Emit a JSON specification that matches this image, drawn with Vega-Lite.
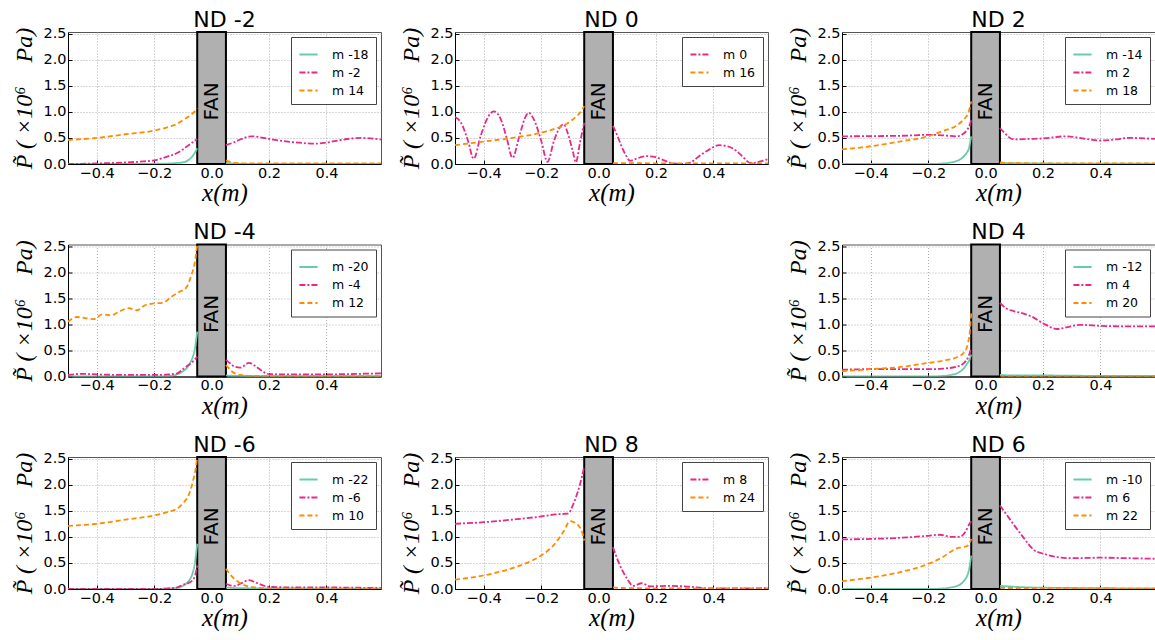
{
"$schema":"https://vega.github.io/schema/vega-lite/v6.json",
"padding":{"left":12,"top":8,"right":0,"bottom":0},
"background":"white",
"bounds":"flush",
"columns":3,
"spacing":{"row":80.5,"column":74},
"datasets":{
"fan":[{"x":-0.05,"xe":0.05,"p":0,"pe":2.53}],
"fanlabel":[{"x":0,"p":1.2,"label":"FAN"}],
"curves":[
{"nd":-2,"m":"m -18","s":"L","x":-0.5,"p":0},{"nd":-2,"m":"m -18","s":"L","x":-0.3,"p":0},{"nd":-2,"m":"m -18","s":"L","x":-0.2,"p":0.005},{"nd":-2,"m":"m -18","s":"L","x":-0.15,"p":0.01},{"nd":-2,"m":"m -18","s":"L","x":-0.12,"p":0.02},{"nd":-2,"m":"m -18","s":"L","x":-0.1,"p":0.03},{"nd":-2,"m":"m -18","s":"L","x":-0.085,"p":0.06},{"nd":-2,"m":"m -18","s":"L","x":-0.075,"p":0.1},{"nd":-2,"m":"m -18","s":"L","x":-0.065,"p":0.16},{"nd":-2,"m":"m -18","s":"L","x":-0.058,"p":0.22},{"nd":-2,"m":"m -18","s":"L","x":-0.05,"p":0.3},
{"nd":-2,"m":"m -18","s":"R","x":0.05,"p":0.02},{"nd":-2,"m":"m -18","s":"R","x":0.1,"p":0.005},{"nd":-2,"m":"m -18","s":"R","x":0.2,"p":0},{"nd":-2,"m":"m -18","s":"R","x":0.59,"p":0},
{"nd":-2,"m":"m -2","s":"L","x":-0.5,"p":0},{"nd":-2,"m":"m -2","s":"L","x":-0.4,"p":0.01},{"nd":-2,"m":"m -2","s":"L","x":-0.3,"p":0.03},{"nd":-2,"m":"m -2","s":"L","x":-0.25,"p":0.045},{"nd":-2,"m":"m -2","s":"L","x":-0.2,"p":0.07},{"nd":-2,"m":"m -2","s":"L","x":-0.15,"p":0.15},{"nd":-2,"m":"m -2","s":"L","x":-0.12,"p":0.21},{"nd":-2,"m":"m -2","s":"L","x":-0.1,"p":0.28},{"nd":-2,"m":"m -2","s":"L","x":-0.08,"p":0.36},{"nd":-2,"m":"m -2","s":"L","x":-0.065,"p":0.42},{"nd":-2,"m":"m -2","s":"L","x":-0.05,"p":0.48},
{"nd":-2,"m":"m -2","s":"R","x":0.05,"p":0.36},{"nd":-2,"m":"m -2","s":"R","x":0.08,"p":0.42},{"nd":-2,"m":"m -2","s":"R","x":0.1,"p":0.47},{"nd":-2,"m":"m -2","s":"R","x":0.14,"p":0.53},{"nd":-2,"m":"m -2","s":"R","x":0.2,"p":0.48},{"nd":-2,"m":"m -2","s":"R","x":0.25,"p":0.44},{"nd":-2,"m":"m -2","s":"R","x":0.3,"p":0.41},{"nd":-2,"m":"m -2","s":"R","x":0.36,"p":0.39},{"nd":-2,"m":"m -2","s":"R","x":0.4,"p":0.41},{"nd":-2,"m":"m -2","s":"R","x":0.45,"p":0.46},{"nd":-2,"m":"m -2","s":"R","x":0.52,"p":0.5},{"nd":-2,"m":"m -2","s":"R","x":0.59,"p":0.47},
{"nd":-2,"m":"m 14","s":"L","x":-0.5,"p":0.46},{"nd":-2,"m":"m 14","s":"L","x":-0.4,"p":0.5},{"nd":-2,"m":"m 14","s":"L","x":-0.3,"p":0.57},{"nd":-2,"m":"m 14","s":"L","x":-0.2,"p":0.64},{"nd":-2,"m":"m 14","s":"L","x":-0.15,"p":0.71},{"nd":-2,"m":"m 14","s":"L","x":-0.12,"p":0.77},{"nd":-2,"m":"m 14","s":"L","x":-0.1,"p":0.84},{"nd":-2,"m":"m 14","s":"L","x":-0.08,"p":0.91},{"nd":-2,"m":"m 14","s":"L","x":-0.07,"p":0.95},{"nd":-2,"m":"m 14","s":"L","x":-0.06,"p":1.0},{"nd":-2,"m":"m 14","s":"L","x":-0.05,"p":1.07},
{"nd":-2,"m":"m 14","s":"R","x":0.05,"p":0.07},{"nd":-2,"m":"m 14","s":"R","x":0.065,"p":0.04},{"nd":-2,"m":"m 14","s":"R","x":0.08,"p":0.02},{"nd":-2,"m":"m 14","s":"R","x":0.12,"p":0.01},{"nd":-2,"m":"m 14","s":"R","x":0.59,"p":0.01},

{"nd":0,"m":"m 0","s":"L","x":-0.5,"p":0.9},{"nd":0,"m":"m 0","s":"L","x":-0.48,"p":0.8},{"nd":0,"m":"m 0","s":"L","x":-0.455,"p":0.45},{"nd":0,"m":"m 0","s":"L","x":-0.435,"p":0.1},{"nd":0,"m":"m 0","s":"L","x":-0.41,"p":0.55},{"nd":0,"m":"m 0","s":"L","x":-0.385,"p":0.9},{"nd":0,"m":"m 0","s":"L","x":-0.365,"p":1.01},{"nd":0,"m":"m 0","s":"L","x":-0.34,"p":0.85},{"nd":0,"m":"m 0","s":"L","x":-0.32,"p":0.5},{"nd":0,"m":"m 0","s":"L","x":-0.3,"p":0.12},{"nd":0,"m":"m 0","s":"L","x":-0.275,"p":0.55},{"nd":0,"m":"m 0","s":"L","x":-0.255,"p":0.9},{"nd":0,"m":"m 0","s":"L","x":-0.244,"p":0.98},{"nd":0,"m":"m 0","s":"L","x":-0.225,"p":0.85},{"nd":0,"m":"m 0","s":"L","x":-0.2,"p":0.45},{"nd":0,"m":"m 0","s":"L","x":-0.178,"p":0.04},{"nd":0,"m":"m 0","s":"L","x":-0.155,"p":0.45},{"nd":0,"m":"m 0","s":"L","x":-0.135,"p":0.7},{"nd":0,"m":"m 0","s":"L","x":-0.122,"p":0.76},{"nd":0,"m":"m 0","s":"L","x":-0.105,"p":0.55},{"nd":0,"m":"m 0","s":"L","x":-0.09,"p":0.25},{"nd":0,"m":"m 0","s":"L","x":-0.079,"p":0.03},{"nd":0,"m":"m 0","s":"L","x":-0.065,"p":0.4},{"nd":0,"m":"m 0","s":"L","x":-0.05,"p":0.79},
{"nd":0,"m":"m 0","s":"R","x":0.05,"p":0.73},{"nd":0,"m":"m 0","s":"R","x":0.065,"p":0.55},{"nd":0,"m":"m 0","s":"R","x":0.08,"p":0.34},{"nd":0,"m":"m 0","s":"R","x":0.095,"p":0.17},{"nd":0,"m":"m 0","s":"R","x":0.11,"p":0.06},{"nd":0,"m":"m 0","s":"R","x":0.13,"p":0.1},{"nd":0,"m":"m 0","s":"R","x":0.17,"p":0.15},{"nd":0,"m":"m 0","s":"R","x":0.2,"p":0.13},{"nd":0,"m":"m 0","s":"R","x":0.22,"p":0.09},{"nd":0,"m":"m 0","s":"R","x":0.26,"p":0.01},{"nd":0,"m":"m 0","s":"R","x":0.3,"p":0},{"nd":0,"m":"m 0","s":"R","x":0.33,"p":0.06},{"nd":0,"m":"m 0","s":"R","x":0.35,"p":0.15},{"nd":0,"m":"m 0","s":"R","x":0.38,"p":0.26},{"nd":0,"m":"m 0","s":"R","x":0.42,"p":0.36},{"nd":0,"m":"m 0","s":"R","x":0.45,"p":0.34},{"nd":0,"m":"m 0","s":"R","x":0.48,"p":0.25},{"nd":0,"m":"m 0","s":"R","x":0.5,"p":0.15},{"nd":0,"m":"m 0","s":"R","x":0.53,"p":0.02},{"nd":0,"m":"m 0","s":"R","x":0.55,"p":0.03},{"nd":0,"m":"m 0","s":"R","x":0.57,"p":0.06},{"nd":0,"m":"m 0","s":"R","x":0.59,"p":0.09},
{"nd":0,"m":"m 16","s":"L","x":-0.5,"p":0.36},{"nd":0,"m":"m 16","s":"L","x":-0.4,"p":0.43},{"nd":0,"m":"m 16","s":"L","x":-0.3,"p":0.5},{"nd":0,"m":"m 16","s":"L","x":-0.2,"p":0.6},{"nd":0,"m":"m 16","s":"L","x":-0.15,"p":0.68},{"nd":0,"m":"m 16","s":"L","x":-0.12,"p":0.74},{"nd":0,"m":"m 16","s":"L","x":-0.1,"p":0.81},{"nd":0,"m":"m 16","s":"L","x":-0.08,"p":0.9},{"nd":0,"m":"m 16","s":"L","x":-0.07,"p":0.95},{"nd":0,"m":"m 16","s":"L","x":-0.06,"p":1.02},{"nd":0,"m":"m 16","s":"L","x":-0.05,"p":1.11},
{"nd":0,"m":"m 16","s":"R","x":0.05,"p":0.015},{"nd":0,"m":"m 16","s":"R","x":0.59,"p":0.01},

{"nd":2,"m":"m -14","s":"L","x":-0.5,"p":0},{"nd":2,"m":"m -14","s":"L","x":-0.2,"p":0},{"nd":2,"m":"m -14","s":"L","x":-0.15,"p":0.01},{"nd":2,"m":"m -14","s":"L","x":-0.12,"p":0.03},{"nd":2,"m":"m -14","s":"L","x":-0.1,"p":0.06},{"nd":2,"m":"m -14","s":"L","x":-0.085,"p":0.1},{"nd":2,"m":"m -14","s":"L","x":-0.075,"p":0.15},{"nd":2,"m":"m -14","s":"L","x":-0.065,"p":0.22},{"nd":2,"m":"m -14","s":"L","x":-0.058,"p":0.3},{"nd":2,"m":"m -14","s":"L","x":-0.05,"p":0.53},
{"nd":2,"m":"m -14","s":"R","x":0.05,"p":0.02},{"nd":2,"m":"m -14","s":"R","x":0.1,"p":0.015},{"nd":2,"m":"m -14","s":"R","x":0.2,"p":0.01},{"nd":2,"m":"m -14","s":"R","x":0.59,"p":0.005},
{"nd":2,"m":"m 2","s":"L","x":-0.5,"p":0.53},{"nd":2,"m":"m 2","s":"L","x":-0.4,"p":0.535},{"nd":2,"m":"m 2","s":"L","x":-0.3,"p":0.54},{"nd":2,"m":"m 2","s":"L","x":-0.25,"p":0.55},{"nd":2,"m":"m 2","s":"L","x":-0.2,"p":0.56},{"nd":2,"m":"m 2","s":"L","x":-0.15,"p":0.55},{"nd":2,"m":"m 2","s":"L","x":-0.1,"p":0.53},{"nd":2,"m":"m 2","s":"L","x":-0.08,"p":0.57},{"nd":2,"m":"m 2","s":"L","x":-0.065,"p":0.65},{"nd":2,"m":"m 2","s":"L","x":-0.055,"p":0.75},{"nd":2,"m":"m 2","s":"L","x":-0.05,"p":0.85},
{"nd":2,"m":"m 2","s":"R","x":0.05,"p":0.69},{"nd":2,"m":"m 2","s":"R","x":0.065,"p":0.6},{"nd":2,"m":"m 2","s":"R","x":0.08,"p":0.52},{"nd":2,"m":"m 2","s":"R","x":0.1,"p":0.47},{"nd":2,"m":"m 2","s":"R","x":0.15,"p":0.48},{"nd":2,"m":"m 2","s":"R","x":0.2,"p":0.49},{"nd":2,"m":"m 2","s":"R","x":0.28,"p":0.53},{"nd":2,"m":"m 2","s":"R","x":0.35,"p":0.48},{"nd":2,"m":"m 2","s":"R","x":0.4,"p":0.45},{"nd":2,"m":"m 2","s":"R","x":0.45,"p":0.47},{"nd":2,"m":"m 2","s":"R","x":0.5,"p":0.5},{"nd":2,"m":"m 2","s":"R","x":0.59,"p":0.48},
{"nd":2,"m":"m 18","s":"L","x":-0.5,"p":0.28},{"nd":2,"m":"m 18","s":"L","x":-0.4,"p":0.34},{"nd":2,"m":"m 18","s":"L","x":-0.3,"p":0.43},{"nd":2,"m":"m 18","s":"L","x":-0.2,"p":0.53},{"nd":2,"m":"m 18","s":"L","x":-0.15,"p":0.63},{"nd":2,"m":"m 18","s":"L","x":-0.1,"p":0.74},{"nd":2,"m":"m 18","s":"L","x":-0.08,"p":0.83},{"nd":2,"m":"m 18","s":"L","x":-0.07,"p":0.89},{"nd":2,"m":"m 18","s":"L","x":-0.06,"p":0.98},{"nd":2,"m":"m 18","s":"L","x":-0.05,"p":1.2},
{"nd":2,"m":"m 18","s":"R","x":0.05,"p":0.03},{"nd":2,"m":"m 18","s":"R","x":0.08,"p":0.015},{"nd":2,"m":"m 18","s":"R","x":0.59,"p":0.01},

{"nd":-4,"m":"m -20","s":"L","x":-0.5,"p":0},{"nd":-4,"m":"m -20","s":"L","x":-0.2,"p":0},{"nd":-4,"m":"m -20","s":"L","x":-0.15,"p":0.01},{"nd":-4,"m":"m -20","s":"L","x":-0.12,"p":0.04},{"nd":-4,"m":"m -20","s":"L","x":-0.1,"p":0.1},{"nd":-4,"m":"m -20","s":"L","x":-0.085,"p":0.17},{"nd":-4,"m":"m -20","s":"L","x":-0.075,"p":0.26},{"nd":-4,"m":"m -20","s":"L","x":-0.065,"p":0.38},{"nd":-4,"m":"m -20","s":"L","x":-0.058,"p":0.54},{"nd":-4,"m":"m -20","s":"L","x":-0.05,"p":0.86},
{"nd":-4,"m":"m -20","s":"R","x":0.05,"p":0.02},{"nd":-4,"m":"m -20","s":"R","x":0.1,"p":0.01},{"nd":-4,"m":"m -20","s":"R","x":0.59,"p":0.005},
{"nd":-4,"m":"m -4","s":"L","x":-0.5,"p":0.03},{"nd":-4,"m":"m -4","s":"L","x":-0.45,"p":0.05},{"nd":-4,"m":"m -4","s":"L","x":-0.4,"p":0.04},{"nd":-4,"m":"m -4","s":"L","x":-0.3,"p":0.03},{"nd":-4,"m":"m -4","s":"L","x":-0.2,"p":0.03},{"nd":-4,"m":"m -4","s":"L","x":-0.15,"p":0.04},{"nd":-4,"m":"m -4","s":"L","x":-0.12,"p":0.06},{"nd":-4,"m":"m -4","s":"L","x":-0.1,"p":0.14},{"nd":-4,"m":"m -4","s":"L","x":-0.085,"p":0.2},{"nd":-4,"m":"m -4","s":"L","x":-0.07,"p":0.26},{"nd":-4,"m":"m -4","s":"L","x":-0.05,"p":0.38},
{"nd":-4,"m":"m -4","s":"R","x":0.05,"p":0.32},{"nd":-4,"m":"m -4","s":"R","x":0.065,"p":0.25},{"nd":-4,"m":"m -4","s":"R","x":0.08,"p":0.19},{"nd":-4,"m":"m -4","s":"R","x":0.1,"p":0.17},{"nd":-4,"m":"m -4","s":"R","x":0.13,"p":0.26},{"nd":-4,"m":"m -4","s":"R","x":0.16,"p":0.17},{"nd":-4,"m":"m -4","s":"R","x":0.18,"p":0.09},{"nd":-4,"m":"m -4","s":"R","x":0.2,"p":0.045},{"nd":-4,"m":"m -4","s":"R","x":0.3,"p":0.04},{"nd":-4,"m":"m -4","s":"R","x":0.4,"p":0.04},{"nd":-4,"m":"m -4","s":"R","x":0.5,"p":0.05},{"nd":-4,"m":"m -4","s":"R","x":0.59,"p":0.06},
{"nd":-4,"m":"m 12","s":"L","x":-0.5,"p":1.05},{"nd":-4,"m":"m 12","s":"L","x":-0.47,"p":1.14},{"nd":-4,"m":"m 12","s":"L","x":-0.44,"p":1.12},{"nd":-4,"m":"m 12","s":"L","x":-0.41,"p":1.1},{"nd":-4,"m":"m 12","s":"L","x":-0.38,"p":1.19},{"nd":-4,"m":"m 12","s":"L","x":-0.35,"p":1.17},{"nd":-4,"m":"m 12","s":"L","x":-0.32,"p":1.25},{"nd":-4,"m":"m 12","s":"L","x":-0.29,"p":1.31},{"nd":-4,"m":"m 12","s":"L","x":-0.26,"p":1.27},{"nd":-4,"m":"m 12","s":"L","x":-0.23,"p":1.37},{"nd":-4,"m":"m 12","s":"L","x":-0.2,"p":1.4},{"nd":-4,"m":"m 12","s":"L","x":-0.17,"p":1.41},{"nd":-4,"m":"m 12","s":"L","x":-0.14,"p":1.53},{"nd":-4,"m":"m 12","s":"L","x":-0.11,"p":1.63},{"nd":-4,"m":"m 12","s":"L","x":-0.09,"p":1.69},{"nd":-4,"m":"m 12","s":"L","x":-0.07,"p":1.95},{"nd":-4,"m":"m 12","s":"L","x":-0.06,"p":2.14},{"nd":-4,"m":"m 12","s":"L","x":-0.05,"p":2.52},
{"nd":-4,"m":"m 12","s":"R","x":0.05,"p":0.22},{"nd":-4,"m":"m 12","s":"R","x":0.06,"p":0.16},{"nd":-4,"m":"m 12","s":"R","x":0.07,"p":0.1},{"nd":-4,"m":"m 12","s":"R","x":0.085,"p":0.05},{"nd":-4,"m":"m 12","s":"R","x":0.1,"p":0.03},{"nd":-4,"m":"m 12","s":"R","x":0.15,"p":0.01},{"nd":-4,"m":"m 12","s":"R","x":0.59,"p":0.005},

{"nd":4,"m":"m -12","s":"L","x":-0.5,"p":0},{"nd":4,"m":"m -12","s":"L","x":-0.2,"p":0},{"nd":4,"m":"m -12","s":"L","x":-0.15,"p":0.01},{"nd":4,"m":"m -12","s":"L","x":-0.12,"p":0.03},{"nd":4,"m":"m -12","s":"L","x":-0.1,"p":0.06},{"nd":4,"m":"m -12","s":"L","x":-0.085,"p":0.11},{"nd":4,"m":"m -12","s":"L","x":-0.075,"p":0.16},{"nd":4,"m":"m -12","s":"L","x":-0.065,"p":0.24},{"nd":4,"m":"m -12","s":"L","x":-0.058,"p":0.3},{"nd":4,"m":"m -12","s":"L","x":-0.05,"p":0.42},
{"nd":4,"m":"m -12","s":"R","x":0.05,"p":0.03},{"nd":4,"m":"m -12","s":"R","x":0.1,"p":0.02},{"nd":4,"m":"m -12","s":"R","x":0.2,"p":0.02},{"nd":4,"m":"m -12","s":"R","x":0.3,"p":0.015},{"nd":4,"m":"m -12","s":"R","x":0.59,"p":0.01},
{"nd":4,"m":"m 4","s":"L","x":-0.5,"p":0.13},{"nd":4,"m":"m 4","s":"L","x":-0.4,"p":0.14},{"nd":4,"m":"m 4","s":"L","x":-0.3,"p":0.14},{"nd":4,"m":"m 4","s":"L","x":-0.2,"p":0.14},{"nd":4,"m":"m 4","s":"L","x":-0.15,"p":0.15},{"nd":4,"m":"m 4","s":"L","x":-0.1,"p":0.19},{"nd":4,"m":"m 4","s":"L","x":-0.075,"p":0.26},{"nd":4,"m":"m 4","s":"L","x":-0.06,"p":0.38},{"nd":4,"m":"m 4","s":"L","x":-0.05,"p":0.54},
{"nd":4,"m":"m 4","s":"R","x":0.05,"p":1.41},{"nd":4,"m":"m 4","s":"R","x":0.07,"p":1.31},{"nd":4,"m":"m 4","s":"R","x":0.1,"p":1.25},{"nd":4,"m":"m 4","s":"R","x":0.13,"p":1.21},{"nd":4,"m":"m 4","s":"R","x":0.16,"p":1.15},{"nd":4,"m":"m 4","s":"R","x":0.2,"p":1.02},{"nd":4,"m":"m 4","s":"R","x":0.25,"p":0.91},{"nd":4,"m":"m 4","s":"R","x":0.28,"p":0.94},{"nd":4,"m":"m 4","s":"R","x":0.33,"p":0.99},{"nd":4,"m":"m 4","s":"R","x":0.4,"p":0.97},{"nd":4,"m":"m 4","s":"R","x":0.5,"p":0.96},{"nd":4,"m":"m 4","s":"R","x":0.59,"p":0.96},
{"nd":4,"m":"m 20","s":"L","x":-0.5,"p":0.1},{"nd":4,"m":"m 20","s":"L","x":-0.4,"p":0.14},{"nd":4,"m":"m 20","s":"L","x":-0.3,"p":0.18},{"nd":4,"m":"m 20","s":"L","x":-0.2,"p":0.26},{"nd":4,"m":"m 20","s":"L","x":-0.15,"p":0.3},{"nd":4,"m":"m 20","s":"L","x":-0.1,"p":0.37},{"nd":4,"m":"m 20","s":"L","x":-0.075,"p":0.46},{"nd":4,"m":"m 20","s":"L","x":-0.06,"p":0.67},{"nd":4,"m":"m 20","s":"L","x":-0.055,"p":0.85},{"nd":4,"m":"m 20","s":"L","x":-0.05,"p":1.21},
{"nd":4,"m":"m 20","s":"R","x":0.05,"p":0.01},{"nd":4,"m":"m 20","s":"R","x":0.59,"p":0.005},

{"nd":-6,"m":"m -22","s":"L","x":-0.5,"p":0},{"nd":-6,"m":"m -22","s":"L","x":-0.2,"p":0},{"nd":-6,"m":"m -22","s":"L","x":-0.15,"p":0.01},{"nd":-6,"m":"m -22","s":"L","x":-0.12,"p":0.02},{"nd":-6,"m":"m -22","s":"L","x":-0.1,"p":0.06},{"nd":-6,"m":"m -22","s":"L","x":-0.085,"p":0.12},{"nd":-6,"m":"m -22","s":"L","x":-0.075,"p":0.19},{"nd":-6,"m":"m -22","s":"L","x":-0.065,"p":0.32},{"nd":-6,"m":"m -22","s":"L","x":-0.058,"p":0.5},{"nd":-6,"m":"m -22","s":"L","x":-0.05,"p":0.87},
{"nd":-6,"m":"m -22","s":"R","x":0.05,"p":0.03},{"nd":-6,"m":"m -22","s":"R","x":0.1,"p":0.015},{"nd":-6,"m":"m -22","s":"R","x":0.59,"p":0.005},
{"nd":-6,"m":"m -6","s":"L","x":-0.5,"p":0},{"nd":-6,"m":"m -6","s":"L","x":-0.2,"p":0},{"nd":-6,"m":"m -6","s":"L","x":-0.15,"p":0.01},{"nd":-6,"m":"m -6","s":"L","x":-0.12,"p":0.03},{"nd":-6,"m":"m -6","s":"L","x":-0.1,"p":0.08},{"nd":-6,"m":"m -6","s":"L","x":-0.075,"p":0.13},{"nd":-6,"m":"m -6","s":"L","x":-0.06,"p":0.22},{"nd":-6,"m":"m -6","s":"L","x":-0.05,"p":0.45},
{"nd":-6,"m":"m -6","s":"R","x":0.05,"p":0.1},{"nd":-6,"m":"m -6","s":"R","x":0.065,"p":0.07},{"nd":-6,"m":"m -6","s":"R","x":0.08,"p":0.06},{"nd":-6,"m":"m -6","s":"R","x":0.1,"p":0.1},{"nd":-6,"m":"m -6","s":"R","x":0.13,"p":0.17},{"nd":-6,"m":"m -6","s":"R","x":0.16,"p":0.11},{"nd":-6,"m":"m -6","s":"R","x":0.2,"p":0.04},{"nd":-6,"m":"m -6","s":"R","x":0.3,"p":0.03},{"nd":-6,"m":"m -6","s":"R","x":0.4,"p":0.03},{"nd":-6,"m":"m -6","s":"R","x":0.5,"p":0.025},{"nd":-6,"m":"m -6","s":"R","x":0.59,"p":0.02},
{"nd":-6,"m":"m 10","s":"L","x":-0.5,"p":1.21},{"nd":-6,"m":"m 10","s":"L","x":-0.4,"p":1.25},{"nd":-6,"m":"m 10","s":"L","x":-0.3,"p":1.33},{"nd":-6,"m":"m 10","s":"L","x":-0.2,"p":1.41},{"nd":-6,"m":"m 10","s":"L","x":-0.15,"p":1.48},{"nd":-6,"m":"m 10","s":"L","x":-0.12,"p":1.54},{"nd":-6,"m":"m 10","s":"L","x":-0.1,"p":1.64},{"nd":-6,"m":"m 10","s":"L","x":-0.08,"p":1.8},{"nd":-6,"m":"m 10","s":"L","x":-0.065,"p":2.06},{"nd":-6,"m":"m 10","s":"L","x":-0.055,"p":2.32},{"nd":-6,"m":"m 10","s":"L","x":-0.05,"p":2.54},
{"nd":-6,"m":"m 10","s":"R","x":0.05,"p":0.39},{"nd":-6,"m":"m 10","s":"R","x":0.065,"p":0.28},{"nd":-6,"m":"m 10","s":"R","x":0.08,"p":0.19},{"nd":-6,"m":"m 10","s":"R","x":0.1,"p":0.11},{"nd":-6,"m":"m 10","s":"R","x":0.15,"p":0.03},{"nd":-6,"m":"m 10","s":"R","x":0.2,"p":0.01},{"nd":-6,"m":"m 10","s":"R","x":0.59,"p":0.005},

{"nd":8,"m":"m 8","s":"L","x":-0.5,"p":1.25},{"nd":8,"m":"m 8","s":"L","x":-0.4,"p":1.28},{"nd":8,"m":"m 8","s":"L","x":-0.3,"p":1.33},{"nd":8,"m":"m 8","s":"L","x":-0.2,"p":1.39},{"nd":8,"m":"m 8","s":"L","x":-0.15,"p":1.43},{"nd":8,"m":"m 8","s":"L","x":-0.12,"p":1.44},{"nd":8,"m":"m 8","s":"L","x":-0.105,"p":1.45},{"nd":8,"m":"m 8","s":"L","x":-0.09,"p":1.6},{"nd":8,"m":"m 8","s":"L","x":-0.08,"p":1.74},{"nd":8,"m":"m 8","s":"L","x":-0.065,"p":2.0},{"nd":8,"m":"m 8","s":"L","x":-0.05,"p":2.35},
{"nd":8,"m":"m 8","s":"R","x":0.05,"p":0.8},{"nd":8,"m":"m 8","s":"R","x":0.07,"p":0.51},{"nd":8,"m":"m 8","s":"R","x":0.1,"p":0.19},{"nd":8,"m":"m 8","s":"R","x":0.12,"p":0.06},{"nd":8,"m":"m 8","s":"R","x":0.15,"p":0.11},{"nd":8,"m":"m 8","s":"R","x":0.18,"p":0.05},{"nd":8,"m":"m 8","s":"R","x":0.25,"p":0.06},{"nd":8,"m":"m 8","s":"R","x":0.3,"p":0.05},{"nd":8,"m":"m 8","s":"R","x":0.4,"p":0.01},{"nd":8,"m":"m 8","s":"R","x":0.5,"p":0.01},{"nd":8,"m":"m 8","s":"R","x":0.59,"p":0.02},
{"nd":8,"m":"m 24","s":"L","x":-0.5,"p":0.18},{"nd":8,"m":"m 24","s":"L","x":-0.4,"p":0.26},{"nd":8,"m":"m 24","s":"L","x":-0.3,"p":0.4},{"nd":8,"m":"m 24","s":"L","x":-0.25,"p":0.5},{"nd":8,"m":"m 24","s":"L","x":-0.2,"p":0.64},{"nd":8,"m":"m 24","s":"L","x":-0.15,"p":0.88},{"nd":8,"m":"m 24","s":"L","x":-0.12,"p":1.12},{"nd":8,"m":"m 24","s":"L","x":-0.1,"p":1.3},{"nd":8,"m":"m 24","s":"L","x":-0.08,"p":1.26},{"nd":8,"m":"m 24","s":"L","x":-0.065,"p":1.18},{"nd":8,"m":"m 24","s":"L","x":-0.055,"p":1.05},{"nd":8,"m":"m 24","s":"L","x":-0.05,"p":0.93},
{"nd":8,"m":"m 24","s":"R","x":0.05,"p":0.03},{"nd":8,"m":"m 24","s":"R","x":0.1,"p":0.015},{"nd":8,"m":"m 24","s":"R","x":0.59,"p":0.01},

{"nd":6,"m":"m -10","s":"L","x":-0.5,"p":0},{"nd":6,"m":"m -10","s":"L","x":-0.2,"p":0},{"nd":6,"m":"m -10","s":"L","x":-0.15,"p":0.01},{"nd":6,"m":"m -10","s":"L","x":-0.12,"p":0.03},{"nd":6,"m":"m -10","s":"L","x":-0.1,"p":0.06},{"nd":6,"m":"m -10","s":"L","x":-0.085,"p":0.1},{"nd":6,"m":"m -10","s":"L","x":-0.075,"p":0.16},{"nd":6,"m":"m -10","s":"L","x":-0.065,"p":0.24},{"nd":6,"m":"m -10","s":"L","x":-0.058,"p":0.36},{"nd":6,"m":"m -10","s":"L","x":-0.05,"p":0.64},
{"nd":6,"m":"m -10","s":"R","x":0.05,"p":0.06},{"nd":6,"m":"m -10","s":"R","x":0.08,"p":0.05},{"nd":6,"m":"m -10","s":"R","x":0.15,"p":0.03},{"nd":6,"m":"m -10","s":"R","x":0.3,"p":0.02},{"nd":6,"m":"m -10","s":"R","x":0.59,"p":0.01},
{"nd":6,"m":"m 6","s":"L","x":-0.5,"p":0.95},{"nd":6,"m":"m 6","s":"L","x":-0.4,"p":0.96},{"nd":6,"m":"m 6","s":"L","x":-0.3,"p":0.98},{"nd":6,"m":"m 6","s":"L","x":-0.2,"p":1.02},{"nd":6,"m":"m 6","s":"L","x":-0.16,"p":1.04},{"nd":6,"m":"m 6","s":"L","x":-0.12,"p":1.0},{"nd":6,"m":"m 6","s":"L","x":-0.09,"p":1.0},{"nd":6,"m":"m 6","s":"L","x":-0.07,"p":1.1},{"nd":6,"m":"m 6","s":"L","x":-0.055,"p":1.26},{"nd":6,"m":"m 6","s":"L","x":-0.05,"p":1.3},
{"nd":6,"m":"m 6","s":"R","x":0.05,"p":1.6},{"nd":6,"m":"m 6","s":"R","x":0.07,"p":1.45},{"nd":6,"m":"m 6","s":"R","x":0.1,"p":1.22},{"nd":6,"m":"m 6","s":"R","x":0.13,"p":1.0},{"nd":6,"m":"m 6","s":"R","x":0.17,"p":0.74},{"nd":6,"m":"m 6","s":"R","x":0.2,"p":0.68},{"nd":6,"m":"m 6","s":"R","x":0.25,"p":0.61},{"nd":6,"m":"m 6","s":"R","x":0.3,"p":0.59},{"nd":6,"m":"m 6","s":"R","x":0.4,"p":0.6},{"nd":6,"m":"m 6","s":"R","x":0.5,"p":0.59},{"nd":6,"m":"m 6","s":"R","x":0.59,"p":0.58},
{"nd":6,"m":"m 22","s":"L","x":-0.5,"p":0.15},{"nd":6,"m":"m 22","s":"L","x":-0.4,"p":0.22},{"nd":6,"m":"m 22","s":"L","x":-0.3,"p":0.32},{"nd":6,"m":"m 22","s":"L","x":-0.2,"p":0.48},{"nd":6,"m":"m 22","s":"L","x":-0.15,"p":0.61},{"nd":6,"m":"m 22","s":"L","x":-0.12,"p":0.72},{"nd":6,"m":"m 22","s":"L","x":-0.1,"p":0.78},{"nd":6,"m":"m 22","s":"L","x":-0.08,"p":0.8},{"nd":6,"m":"m 22","s":"L","x":-0.06,"p":0.84},{"nd":6,"m":"m 22","s":"L","x":-0.05,"p":0.96},
{"nd":6,"m":"m 22","s":"R","x":0.05,"p":0.02},{"nd":6,"m":"m 22","s":"R","x":0.59,"p":0.005}
]
},
"config":{
"font":"DejaVu Sans",
"view":{"stroke":"#555","strokeWidth":1},
"title":{"font":"DejaVu Sans","fontSize":22,"fontWeight":"normal","color":"black","offset":-6},
"axis":{"labelFont":"DejaVu Sans","labelFontSize":14.5,"labelColor":"black","domainColor":"black","domainWidth":1,"tickColor":"black","tickSize":-4,"labelPadding":6,"gridColor":"#999","gridDash":[1,2],"gridWidth":0.8,"zindex":1,"titleFont":"Liberation Serif","titleFontStyle":"italic","titleFontWeight":"normal","titleColor":"black"},
"axisX":{"titlePadding":1,"titleFontSize":25},
"axisY":{"titlePadding":6,"titleFontSize":24},
"legend":{"orient":"top-right","offset":5,"padding":7,"strokeColor":"#444","fillColor":"white","symbolType":"stroke","symbolSize":330,"symbolStrokeWidth":2,"labelFont":"DejaVu Sans","labelFontSize":12.5,"labelColor":"black","labelOffset":13,"rowPadding":1}
},
"resolve":{"scale":{"x":"independent","y":"independent","color":"independent","strokeDash":"independent"},"legend":{"color":"independent","strokeDash":"independent"}},
"concat":[
{"title":"ND -2","width":313,"height":132,
 "encoding":{"x":{"field":"x","type":"quantitative","scale":{"domain":[-0.5,0.59],"nice":false,"zero":false},"axis":{"title":"x(m)","values":[-0.4,-0.2,0,0.2,0.4],"format":".1f"}},"y":{"field":"p","type":"quantitative","scale":{"domain":[0,2.53],"nice":false},"axis":{"title":"P̃ ( ×10⁶\u2002\u2002Pa)","values":[0,0.5,1,1.5,2,2.5],"format":".1f"}}},
 "layer":[
  {"data":{"name":"fan"},"mark":{"type":"rect","fill":"#b0b0b0","stroke":"black","strokeWidth":2},"encoding":{"x2":{"field":"xe"},"y2":{"field":"pe"}}},
  {"data":{"name":"curves"},"transform":[{"filter":"datum.nd == -2"}],"mark":{"type":"line","clip":true,"strokeWidth":1.8,"interpolate":"monotone"},"encoding":{"detail":{"field":"s"},"color":{"field":"m","type":"nominal","scale":{"domain":["m -18","m -2","m 14"],"range":["#66cdaa","#e7298a","#ff8c00"]},"legend":{"title":null}},"strokeDash":{"field":"m","type":"nominal","scale":{"domain":["m -18","m -2","m 14"],"range":[[1,0],[6,2,2,2],[5,3]]},"legend":{"title":null}}}},
  {"data":{"name":"fanlabel"},"mark":{"type":"text","angle":270,"fontSize":20,"font":"DejaVu Sans","color":"black"},"encoding":{"text":{"field":"label"}}}
 ]},
{"title":"ND 0","width":313,"height":132,
 "encoding":{"x":{"field":"x","type":"quantitative","scale":{"domain":[-0.5,0.59],"nice":false,"zero":false},"axis":{"title":"x(m)","values":[-0.4,-0.2,0,0.2,0.4],"format":".1f"}},"y":{"field":"p","type":"quantitative","scale":{"domain":[0,2.53],"nice":false},"axis":{"title":"P̃ ( ×10⁶\u2002\u2002Pa)","values":[0,0.5,1,1.5,2,2.5],"format":".1f"}}},
 "layer":[
  {"data":{"name":"fan"},"mark":{"type":"rect","fill":"#b0b0b0","stroke":"black","strokeWidth":2},"encoding":{"x2":{"field":"xe"},"y2":{"field":"pe"}}},
  {"data":{"name":"curves"},"transform":[{"filter":"datum.nd == 0"}],"mark":{"type":"line","clip":true,"strokeWidth":1.8,"interpolate":"monotone"},"encoding":{"detail":{"field":"s"},"color":{"field":"m","type":"nominal","scale":{"domain":["m 0","m 16"],"range":["#e7298a","#ff8c00"]},"legend":{"title":null}},"strokeDash":{"field":"m","type":"nominal","scale":{"domain":["m 0","m 16"],"range":[[6,2,2,2],[5,3]]},"legend":{"title":null}}}},
  {"data":{"name":"fanlabel"},"mark":{"type":"text","angle":270,"fontSize":20,"font":"DejaVu Sans","color":"black"},"encoding":{"text":{"field":"label"}}}
 ]},
{"title":"ND 2","width":313,"height":132,
 "encoding":{"x":{"field":"x","type":"quantitative","scale":{"domain":[-0.5,0.59],"nice":false,"zero":false},"axis":{"title":"x(m)","values":[-0.4,-0.2,0,0.2,0.4],"format":".1f"}},"y":{"field":"p","type":"quantitative","scale":{"domain":[0,2.53],"nice":false},"axis":{"title":"P̃ ( ×10⁶\u2002\u2002Pa)","values":[0,0.5,1,1.5,2,2.5],"format":".1f"}}},
 "layer":[
  {"data":{"name":"fan"},"mark":{"type":"rect","fill":"#b0b0b0","stroke":"black","strokeWidth":2},"encoding":{"x2":{"field":"xe"},"y2":{"field":"pe"}}},
  {"data":{"name":"curves"},"transform":[{"filter":"datum.nd == 2"}],"mark":{"type":"line","clip":true,"strokeWidth":1.8,"interpolate":"monotone"},"encoding":{"detail":{"field":"s"},"color":{"field":"m","type":"nominal","scale":{"domain":["m -14","m 2","m 18"],"range":["#66cdaa","#e7298a","#ff8c00"]},"legend":{"title":null}},"strokeDash":{"field":"m","type":"nominal","scale":{"domain":["m -14","m 2","m 18"],"range":[[1,0],[6,2,2,2],[5,3]]},"legend":{"title":null}}}},
  {"data":{"name":"fanlabel"},"mark":{"type":"text","angle":270,"fontSize":20,"font":"DejaVu Sans","color":"black"},"encoding":{"text":{"field":"label"}}}
 ]},
{"title":"ND -4","width":313,"height":132,
 "encoding":{"x":{"field":"x","type":"quantitative","scale":{"domain":[-0.5,0.59],"nice":false,"zero":false},"axis":{"title":"x(m)","values":[-0.4,-0.2,0,0.2,0.4],"format":".1f"}},"y":{"field":"p","type":"quantitative","scale":{"domain":[0,2.53],"nice":false},"axis":{"title":"P̃ ( ×10⁶\u2002\u2002Pa)","values":[0,0.5,1,1.5,2,2.5],"format":".1f"}}},
 "layer":[
  {"data":{"name":"fan"},"mark":{"type":"rect","fill":"#b0b0b0","stroke":"black","strokeWidth":2},"encoding":{"x2":{"field":"xe"},"y2":{"field":"pe"}}},
  {"data":{"name":"curves"},"transform":[{"filter":"datum.nd == -4"}],"mark":{"type":"line","clip":true,"strokeWidth":1.8,"interpolate":"monotone"},"encoding":{"detail":{"field":"s"},"color":{"field":"m","type":"nominal","scale":{"domain":["m -20","m -4","m 12"],"range":["#66cdaa","#e7298a","#ff8c00"]},"legend":{"title":null}},"strokeDash":{"field":"m","type":"nominal","scale":{"domain":["m -20","m -4","m 12"],"range":[[1,0],[6,2,2,2],[5,3]]},"legend":{"title":null}}}},
  {"data":{"name":"fanlabel"},"mark":{"type":"text","angle":270,"fontSize":20,"font":"DejaVu Sans","color":"black"},"encoding":{"text":{"field":"label"}}}
 ]},
{"width":313,"height":132,"view":{"stroke":null},"data":{"name":"fanlabel"},"mark":{"type":"text","opacity":0},"encoding":{"x":{"field":"x","type":"quantitative","axis":null},"y":{"field":"p","type":"quantitative","axis":null},"text":{"field":"label"}}},
{"title":"ND 4","width":313,"height":132,
 "encoding":{"x":{"field":"x","type":"quantitative","scale":{"domain":[-0.5,0.59],"nice":false,"zero":false},"axis":{"title":"x(m)","values":[-0.4,-0.2,0,0.2,0.4],"format":".1f"}},"y":{"field":"p","type":"quantitative","scale":{"domain":[0,2.53],"nice":false},"axis":{"title":"P̃ ( ×10⁶\u2002\u2002Pa)","values":[0,0.5,1,1.5,2,2.5],"format":".1f"}}},
 "layer":[
  {"data":{"name":"fan"},"mark":{"type":"rect","fill":"#b0b0b0","stroke":"black","strokeWidth":2},"encoding":{"x2":{"field":"xe"},"y2":{"field":"pe"}}},
  {"data":{"name":"curves"},"transform":[{"filter":"datum.nd == 4"}],"mark":{"type":"line","clip":true,"strokeWidth":1.8,"interpolate":"monotone"},"encoding":{"detail":{"field":"s"},"color":{"field":"m","type":"nominal","scale":{"domain":["m -12","m 4","m 20"],"range":["#66cdaa","#e7298a","#ff8c00"]},"legend":{"title":null}},"strokeDash":{"field":"m","type":"nominal","scale":{"domain":["m -12","m 4","m 20"],"range":[[1,0],[6,2,2,2],[5,3]]},"legend":{"title":null}}}},
  {"data":{"name":"fanlabel"},"mark":{"type":"text","angle":270,"fontSize":20,"font":"DejaVu Sans","color":"black"},"encoding":{"text":{"field":"label"}}}
 ]},
{"title":"ND -6","width":313,"height":132,
 "encoding":{"x":{"field":"x","type":"quantitative","scale":{"domain":[-0.5,0.59],"nice":false,"zero":false},"axis":{"title":"x(m)","values":[-0.4,-0.2,0,0.2,0.4],"format":".1f"}},"y":{"field":"p","type":"quantitative","scale":{"domain":[0,2.53],"nice":false},"axis":{"title":"P̃ ( ×10⁶\u2002\u2002Pa)","values":[0,0.5,1,1.5,2,2.5],"format":".1f"}}},
 "layer":[
  {"data":{"name":"fan"},"mark":{"type":"rect","fill":"#b0b0b0","stroke":"black","strokeWidth":2},"encoding":{"x2":{"field":"xe"},"y2":{"field":"pe"}}},
  {"data":{"name":"curves"},"transform":[{"filter":"datum.nd == -6"}],"mark":{"type":"line","clip":true,"strokeWidth":1.8,"interpolate":"monotone"},"encoding":{"detail":{"field":"s"},"color":{"field":"m","type":"nominal","scale":{"domain":["m -22","m -6","m 10"],"range":["#66cdaa","#e7298a","#ff8c00"]},"legend":{"title":null}},"strokeDash":{"field":"m","type":"nominal","scale":{"domain":["m -22","m -6","m 10"],"range":[[1,0],[6,2,2,2],[5,3]]},"legend":{"title":null}}}},
  {"data":{"name":"fanlabel"},"mark":{"type":"text","angle":270,"fontSize":20,"font":"DejaVu Sans","color":"black"},"encoding":{"text":{"field":"label"}}}
 ]},
{"title":"ND 8","width":313,"height":132,
 "encoding":{"x":{"field":"x","type":"quantitative","scale":{"domain":[-0.5,0.59],"nice":false,"zero":false},"axis":{"title":"x(m)","values":[-0.4,-0.2,0,0.2,0.4],"format":".1f"}},"y":{"field":"p","type":"quantitative","scale":{"domain":[0,2.53],"nice":false},"axis":{"title":"P̃ ( ×10⁶\u2002\u2002Pa)","values":[0,0.5,1,1.5,2,2.5],"format":".1f"}}},
 "layer":[
  {"data":{"name":"fan"},"mark":{"type":"rect","fill":"#b0b0b0","stroke":"black","strokeWidth":2},"encoding":{"x2":{"field":"xe"},"y2":{"field":"pe"}}},
  {"data":{"name":"curves"},"transform":[{"filter":"datum.nd == 8"}],"mark":{"type":"line","clip":true,"strokeWidth":1.8,"interpolate":"monotone"},"encoding":{"detail":{"field":"s"},"color":{"field":"m","type":"nominal","scale":{"domain":["m 8","m 24"],"range":["#e7298a","#ff8c00"]},"legend":{"title":null}},"strokeDash":{"field":"m","type":"nominal","scale":{"domain":["m 8","m 24"],"range":[[6,2,2,2],[5,3]]},"legend":{"title":null}}}},
  {"data":{"name":"fanlabel"},"mark":{"type":"text","angle":270,"fontSize":20,"font":"DejaVu Sans","color":"black"},"encoding":{"text":{"field":"label"}}}
 ]},
{"title":"ND 6","width":313,"height":132,
 "encoding":{"x":{"field":"x","type":"quantitative","scale":{"domain":[-0.5,0.59],"nice":false,"zero":false},"axis":{"title":"x(m)","values":[-0.4,-0.2,0,0.2,0.4],"format":".1f"}},"y":{"field":"p","type":"quantitative","scale":{"domain":[0,2.53],"nice":false},"axis":{"title":"P̃ ( ×10⁶\u2002\u2002Pa)","values":[0,0.5,1,1.5,2,2.5],"format":".1f"}}},
 "layer":[
  {"data":{"name":"fan"},"mark":{"type":"rect","fill":"#b0b0b0","stroke":"black","strokeWidth":2},"encoding":{"x2":{"field":"xe"},"y2":{"field":"pe"}}},
  {"data":{"name":"curves"},"transform":[{"filter":"datum.nd == 6"}],"mark":{"type":"line","clip":true,"strokeWidth":1.8,"interpolate":"monotone"},"encoding":{"detail":{"field":"s"},"color":{"field":"m","type":"nominal","scale":{"domain":["m -10","m 6","m 22"],"range":["#66cdaa","#e7298a","#ff8c00"]},"legend":{"title":null}},"strokeDash":{"field":"m","type":"nominal","scale":{"domain":["m -10","m 6","m 22"],"range":[[1,0],[6,2,2,2],[5,3]]},"legend":{"title":null}}}},
  {"data":{"name":"fanlabel"},"mark":{"type":"text","angle":270,"fontSize":20,"font":"DejaVu Sans","color":"black"},"encoding":{"text":{"field":"label"}}}
 ]}
]
}
